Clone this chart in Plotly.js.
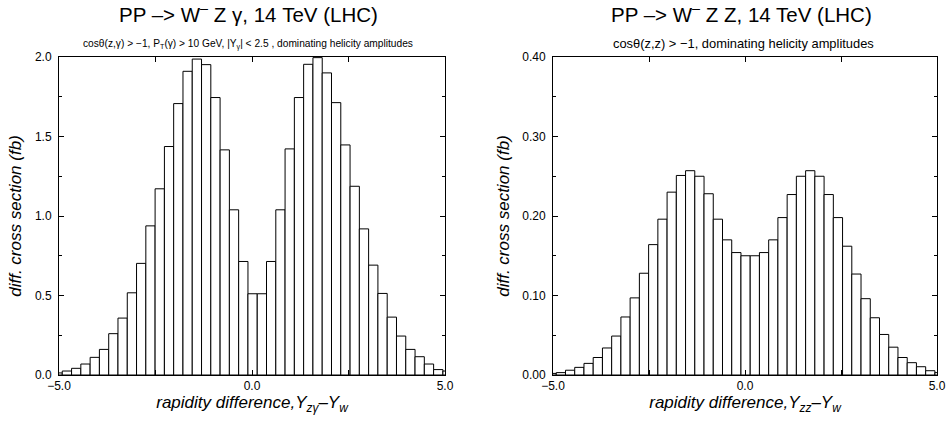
<!DOCTYPE html>
<html>
<head>
<meta charset="utf-8">
<script src="https://cdn.plot.ly/plotly-3.0.1.min.js"></script>
<style>
html,body{margin:0;padding:0;background:#fff;}
#chart{width:947px;height:423px;}
</style>
</head>
<body>
<div id="chart"></div>
<script>
// Bin centres of the rapidity-difference histogram (incl. partly visible edge bins)
const binCenters = [-5.035, -4.795, -4.554, -4.314, -4.073, -3.833, -3.592, -3.352, -3.111, -2.871, -2.630,
  -2.390, -2.149, -1.909, -1.668, -1.428, -1.187, -0.947, -0.706, -0.466, -0.225,
  0.015, 0.256, 0.496, 0.737, 0.977, 1.218, 1.458, 1.699, 1.939, 2.180,
  2.420, 2.661, 2.901, 3.142, 3.382, 3.623, 3.863, 4.104, 4.344, 4.585, 4.825, 5.066];

// PP -> W- Z gamma (fb)
const wzgValues = [0.013, 0.025, 0.042, 0.069, 0.111, 0.161, 0.260, 0.358, 0.517, 0.702, 0.938,
  1.171, 1.437, 1.707, 1.910, 1.987, 1.952, 1.745, 1.416, 1.039, 0.714,
  0.511, 0.511, 0.714, 1.039, 1.422, 1.745, 1.954, 1.996, 1.900, 1.713,
  1.447, 1.187, 0.919, 0.691, 0.513, 0.364, 0.245, 0.161, 0.115, 0.069, 0.034, 0.025];

// PP -> W- Z Z (fb)
const wzzValues = [0.002, 0.003, 0.006, 0.0096, 0.0146, 0.022, 0.034, 0.049, 0.073, 0.097, 0.128,
  0.164, 0.196, 0.230, 0.251, 0.257, 0.250, 0.228, 0.196, 0.170, 0.154,
  0.150, 0.150, 0.154, 0.170, 0.198, 0.227, 0.250, 0.257, 0.250, 0.227,
  0.198, 0.162, 0.127, 0.096, 0.072, 0.051, 0.035, 0.022, 0.0155, 0.0104, 0.0054, 0.003];

const binWidth = 0.2405;
const FONT = '"Liberation Sans", Arial, Helvetica, sans-serif';

const barStyle = {color: '#ffffff', line: {color: '#000000', width: 1}};

const traces = [
  {type: 'bar', x: binCenters, y: wzgValues, width: binWidth, marker: barStyle,
   xaxis: 'x', yaxis: 'y', hoverinfo: 'x+y', showlegend: false},
  {type: 'bar', x: binCenters, y: wzzValues, width: binWidth, marker: barStyle,
   xaxis: 'x2', yaxis: 'y2', hoverinfo: 'x+y', showlegend: false}
];

function xAxis(domain, anchor, sub) {
  return {
    domain: domain, anchor: anchor, range: [-5, 5],
    tick0: -5, dtick: 5, tickformat: '.1f',
    ticks: 'inside', ticklen: 5, tickcolor: '#000', tickwidth: 1,
    minor: {dtick: 2.5, tick0: -5, ticks: 'inside', ticklen: 5, tickcolor: '#000', showgrid: false},
    mirror: 'allticks', showline: true, linecolor: '#000', linewidth: 1,
    showgrid: false, zeroline: false,
    tickfont: {family: FONT, size: 12, color: '#000'},
    title: {text: '<i>rapidity difference,Y<sub>' + sub + '</sub>\u2013Y<sub>w</sub></i>',
            font: {family: FONT, size: 17, color: '#000'}, standoff: 2}
  };
}
function yAxis(domain, anchor, maxv, dt, fmt) {
  return {
    domain: domain, anchor: anchor, range: [0, maxv],
    dtick: dt, tick0: 0, tickformat: fmt,
    ticks: 'inside', ticklen: 5, tickcolor: '#000', tickwidth: 1,
    minor: {dtick: dt / 2, ticks: 'inside', ticklen: 3, tickcolor: '#000', showgrid: false},
    mirror: 'allticks', showline: true, linecolor: '#000', linewidth: 1,
    showgrid: false, zeroline: false, ticklabelstandoff: 4,
    tickfont: {family: FONT, size: 12, color: '#000'},
    title: {text: '<i>diff. cross section (fb)</i>',
            font: {family: FONT, size: 17, color: '#000'}, standoff: 8}
  };
}

const yDom = [1 - 375 / 423, 1 - 57 / 423];

const layout = {
  width: 947, height: 423,
  margin: {l: 0, r: 0, t: 0, b: 0},
  paper_bgcolor: '#fff', plot_bgcolor: '#fff',
  bargap: 0,
  font: {family: FONT, color: '#000'},
  xaxis: xAxis([59 / 947, 445 / 947], 'y', 'z\u03b3'),
  yaxis: yAxis(yDom, 'x', 2.0, 0.5, '.1f'),
  xaxis2: xAxis([553 / 947, 937 / 947], 'y2', 'zz'),
  yaxis2: yAxis(yDom, 'x2', 0.40, 0.1, '.2f'),
  annotations: [
    {xref: 'paper', yref: 'paper', x: 248 / 947, y: 1 - 13 / 423, xanchor: 'center', yanchor: 'middle',
     showarrow: false, text: 'PP \u2013> W<sup>\u2013</sup> Z \u03b3, 14 TeV (LHC)',
     font: {family: FONT, size: 20.5, color: '#000'}},
    {xref: 'paper', yref: 'paper', x: 741 / 947, y: 1 - 13 / 423, xanchor: 'center', yanchor: 'middle',
     showarrow: false, text: 'PP \u2013> W<sup>\u2013</sup> Z Z, 14 TeV (LHC)',
     font: {family: FONT, size: 20.5, color: '#000'}},
    {xref: 'paper', yref: 'paper', x: 248 / 947, y: 1 - 44 / 423, xanchor: 'center', yanchor: 'middle',
     showarrow: false,
     text: 'cos\u03b8(z,\u03b3) > \u22121, P<sub>T</sub>(\u03b3) > 10 GeV, |Y<sub>\u03b3</sub>| < 2.5 , dominating helicity amplitudes',
     font: {family: FONT, size: 10.2, color: '#000'}},
    {xref: 'paper', yref: 'paper', x: 743 / 947, y: 1 - 43 / 423, xanchor: 'center', yanchor: 'middle',
     showarrow: false,
     text: 'cos\u03b8(z,z) > \u22121, dominating helicity amplitudes',
     font: {family: FONT, size: 12.9, color: '#000'}}
  ]
};

Plotly.newPlot('chart', traces, layout, {displayModeBar: false, staticPlot: true});
</script>
</body>
</html>
